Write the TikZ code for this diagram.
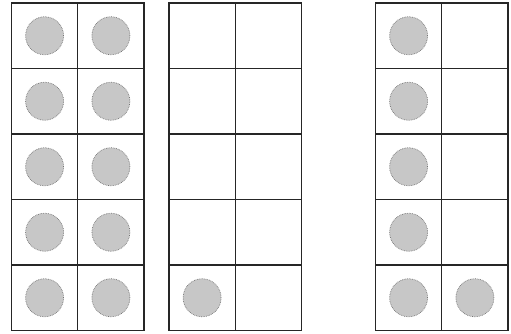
\documentclass[tikz,border=0pt]{standalone}
\begin{document}
\begin{tikzpicture}[x=1pt,y=-1pt,
  gridline/.style={line width=1.3pt,draw=black!85},
  counter/.style={circle,minimum size=38pt,inner sep=0pt,fill=black!22,draw=black!55,line width=0.7pt,densely dotted}]
\useasboundingbox (0,0) rectangle (511,334);
\fill[white] (0,0) rectangle (511,334);
% frame positions: left x, top y
\foreach \fx/\fn in {11.5/A,169/B,375.5/C}{
  \draw[gridline] (\fx,3) rectangle ++(132.5,327.5);
  \draw[gridline] (\fx+66.25,3) -- ++(0,327.5);
  \foreach \r in {1,...,4}{
    \draw[gridline] (\fx,3+\r*65.5) -- ++(132.5,0);
  }
}
% frame A: all ten
\foreach \r in {0,...,4}{
  \node[counter] (a\r l) at (11.5+33.1,3+32.75+\r*65.5) {};
  \node[counter] (a\r r) at (11.5+99.4,3+32.75+\r*65.5) {};
}
% frame B: bottom-left
\node[counter] (b4l) at (169+33.1,3+32.75+4*65.5) {};
% frame C: left column + bottom-right
\foreach \r in {0,...,4}{
  \node[counter] (c\r l) at (375.5+33.1,3+32.75+\r*65.5) {};
}
\node[counter] (c4r) at (375.5+99.4,3+32.75+4*65.5) {};
\end{tikzpicture}
\end{document}
